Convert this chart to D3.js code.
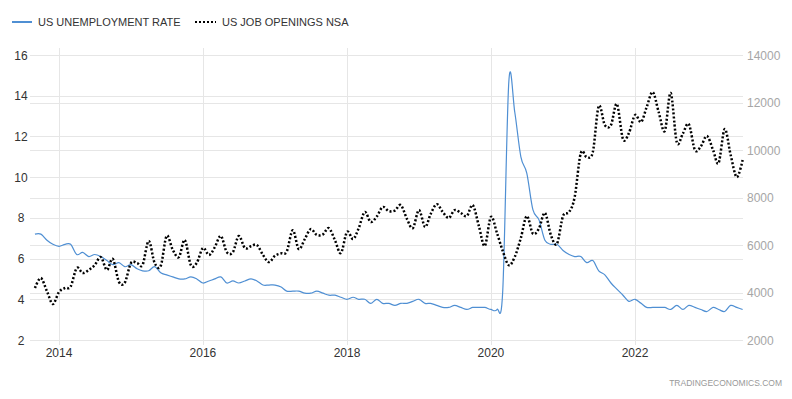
<!DOCTYPE html>
<html><head><meta charset="utf-8">
<script src="https://cdn.jsdelivr.net/npm/d3@7"></script>
<style>body{margin:0;background:#fff;} svg{display:block;font-family:"Liberation Sans",Arial,sans-serif;}</style>
</head><body><svg id="chart" width="792" height="399"></svg>
<script>
const seriesNames = ["US UNEMPLOYMENT RATE", "US JOB OPENINGS NSA"];
const firstMonth = [2013, 8];   // September 2013
const lastMonth = [2023, 6];    // July 2023
const unemployment = [
  7.2, 7.2, 6.9, 6.7,
  6.6, 6.7, 6.7, 6.2, 6.3, 6.1, 6.2, 6.1, 5.9, 5.7, 5.8, 5.6,
  5.7, 5.5, 5.4, 5.4, 5.6, 5.3, 5.2, 5.1, 5.0, 5.0, 5.1, 5.0,
  4.8, 4.9, 5.0, 5.1, 4.8, 4.9, 4.8, 4.9, 5.0, 4.9, 4.7, 4.7,
  4.7, 4.6, 4.4, 4.4, 4.4, 4.3, 4.3, 4.4, 4.3, 4.2, 4.2, 4.1,
  4.0, 4.1, 4.0, 4.0, 3.8, 4.0, 3.8, 3.8, 3.7, 3.8, 3.8, 3.9,
  4.0, 3.8, 3.8, 3.7, 3.6, 3.6, 3.7, 3.6, 3.5, 3.6, 3.6, 3.6,
  3.5, 3.5, 4.4, 14.7, 13.2, 11.0, 10.2, 8.4, 7.9, 6.9, 6.7, 6.7,
  6.4, 6.2, 6.1, 6.1, 5.8, 5.9, 5.4, 5.2, 4.8, 4.5, 4.2, 3.9,
  4.0, 3.8, 3.6, 3.6, 3.6, 3.6, 3.5, 3.7, 3.5, 3.7, 3.6, 3.5,
  3.4, 3.6, 3.5, 3.4, 3.7, 3.6, 3.5
];
const jobOpenings = [
  4190, 4610, 4050, 3515,
  4020, 4190, 4250, 5030, 4820, 4950, 5150, 5490, 4950, 5410, 4450, 4420,
  5240, 5240, 5160, 6170, 5250, 5120, 6380, 5800, 5490, 6210, 5150, 5250,
  5870, 5580, 5900, 6380, 5700, 5700, 6380, 5870, 5950, 6000, 5580, 5280,
  5550, 5650, 5720, 6620, 5830, 6250, 6670, 6420, 6450, 6710, 6200, 5660,
  6550, 6250, 6700, 7390, 6970, 7200, 7600, 7430, 7450, 7680, 7100, 6710,
  7470, 6760, 7300, 7720, 7400, 7140, 7470, 7350, 7220, 7680, 6800, 5960,
  7180, 6500, 5750, 5150, 5500, 6300, 7220, 6480, 6700, 7350, 6400, 6050,
  7220, 7390, 8020, 9870, 9700, 9910, 11850, 11050, 11050, 11940, 10460, 10710,
  11470, 11180, 11800, 12440, 11600, 10800, 12400, 10330, 10700, 11090, 10000, 10150,
  10590, 10000, 9450, 10880, 9800, 8860, 9580
];
const leftTicks = [2, 4, 6, 8, 10, 12, 14, 16];
const rightTicks = [2000, 4000, 6000, 8000, 10000, 12000, 14000];
const yearTicks = [2014, 2016, 2018, 2020, 2022];
const sourceLabel = "TRADINGECONOMICS.COM";

const months = d3.timeMonth.range(new Date(firstMonth[0], firstMonth[1], 1),
                                  d3.timeMonth.offset(new Date(lastMonth[0], lastMonth[1], 1), 1));
const unempData = months.map((d, i) => ({date: d, v: unemployment[i]}));
const jobsData = months.map((d, i) => ({date: d, v: jobOpenings[i]}));

const svg = d3.select("#chart");
const plotL = 30, plotR = 743, plotT = 48, plotB = 345;
const x = d3.scaleTime().domain([new Date(2014, 0, 1), new Date(2022, 0, 1)]).range([59, 635]);
const yL = d3.scaleLinear().domain([2, 16]).range([340, 55]);
const yR = d3.scaleLinear().domain([2000, 14000]).range([340, 55]);

const blue = "#4f8fd3";
const grid = svg.append("g");
grid.selectAll(".gl").data(leftTicks).join("line")
  .attr("x1", plotL).attr("x2", plotR)
  .attr("y1", d => Math.round(yL(d)) + 0.5).attr("y2", d => Math.round(yL(d)) + 0.5)
  .attr("stroke", "#e6e6e6");
grid.selectAll(".gr").data(rightTicks).join("line")
  .attr("x1", plotL).attr("x2", plotR)
  .attr("y1", d => Math.round(yR(d)) + 0.5).attr("y2", d => Math.round(yR(d)) + 0.5)
  .attr("stroke", "#e6e6e6");
grid.selectAll(".gv").data(yearTicks).join("line")
  .attr("x1", d => Math.round(x(new Date(d, 0, 1))) + 0.5).attr("x2", d => Math.round(x(new Date(d, 0, 1))) + 0.5)
  .attr("y1", plotT).attr("y2", plotB)
  .attr("stroke", "#e6e6e6");

// axes labels
svg.append("g").selectAll("text").data(leftTicks).join("text")
  .attr("x", 21).attr("y", d => yL(d) + 4.5)
  .attr("text-anchor", "middle").attr("font-size", 12).attr("fill", "#333")
  .text(d => d);
svg.append("g").selectAll("text").data(rightTicks).join("text")
  .attr("x", 747).attr("y", d => yR(d) + 4.5)
  .attr("text-anchor", "start").attr("font-size", 12).attr("fill", "#a6a6a6")
  .text(d => d);
svg.append("g").selectAll("text").data(yearTicks).join("text")
  .attr("x", d => x(new Date(d, 0, 1))).attr("y", 357)
  .attr("text-anchor", "middle").attr("font-size", 12).attr("fill", "#333")
  .text(d => d);

const curve = d3.curveCatmullRom.alpha(0);
const lineU = d3.line().x(d => x(d.date)).y(d => yL(d.v)).curve(curve);
const lineJ = d3.line().x(d => x(d.date)).y(d => yR(d.v)).curve(curve);

svg.append("path").datum(unempData).attr("d", lineU)
  .attr("fill", "none").attr("stroke", blue).attr("stroke-width", 1.2);
svg.append("path").datum(jobsData).attr("d", lineJ)
  .attr("fill", "none").attr("stroke", "#000").attr("stroke-width", 2.5)
  .attr("stroke-dasharray", "2,2");

// legend
const lg = svg.append("g");
lg.append("line").attr("x1", 12).attr("x2", 32).attr("y1", 22).attr("y2", 22)
  .attr("stroke", blue).attr("stroke-width", 2);
lg.append("text").attr("x", 38).attr("y", 26).attr("font-size", 11).attr("fill", "#333").text(seriesNames[0]);
lg.append("line").attr("x1", 195).attr("x2", 216).attr("y1", 22).attr("y2", 22)
  .attr("stroke", "#000").attr("stroke-width", 2).attr("stroke-dasharray", "2,2");
lg.append("text").attr("x", 222).attr("y", 26).attr("font-size", 11).attr("fill", "#333").text(seriesNames[1]);

svg.append("text").attr("x", 782).attr("y", 386).attr("text-anchor", "end")
  .attr("font-size", 8.5).attr("fill", "#999").text(sourceLabel);
</script></body></html>
